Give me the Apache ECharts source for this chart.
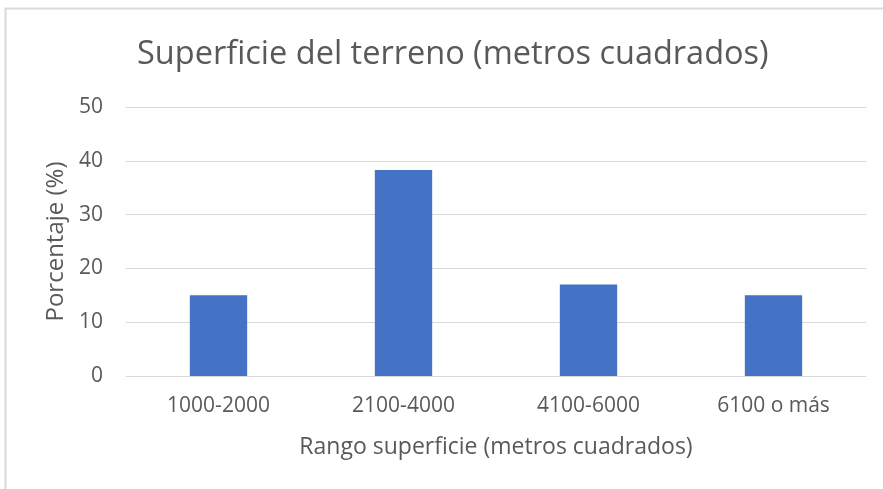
<!DOCTYPE html>
<html>
<head>
<meta charset="utf-8">
<script src="https://cdn.jsdelivr.net/npm/echarts@6/dist/echarts.min.js"></script>
<style>
html,body{margin:0;padding:0;background:#fff;}
#c{width:883px;height:489px;}
</style>
</head>
<body>
<div id="c"></div>
<script>
var titleText = 'Superficie del terreno (metros cuadrados)';
var categories = ['1000-2000', '2100-4000', '4100-6000', '6100 o más'];
var values = [15, 38.3, 17, 15];
var yTicks = {min: 0, max: 50, interval: 10};
var xName = 'Rango superficie (metros cuadrados)';
var yName = 'Porcentaje (%)';

var chart = echarts.init(document.getElementById('c'), null, {renderer: 'canvas'});
var font = '"Open Sans", "Noto Sans", sans-serif';
chart.setOption({
  animation: false,
  backgroundColor: '#ffffff',
  textStyle: {fontFamily: font},
  graphic: [{
    type: 'rect',
    shape: {x: 5.5, y: 8.5, width: 900, height: 600},
    style: {fill: 'none', stroke: '#D9D9D9', lineWidth: 2},
    silent: true
  }],
  title: {
    text: titleText,
    left: 132,
    top: 33,
    textStyle: {fontFamily: font, fontSize: 32.5, fontWeight: 'normal', color: '#595959'}
  },
  grid: {left: 126, right: 17, top: 107, bottom: 113, containLabel: false},
  xAxis: {
    type: 'category',
    data: categories,
    name: xName,
    nameLocation: 'middle',
    nameGap: 60,
    nameTextStyle: {fontFamily: font, fontSize: 23, color: '#595959'},
    axisLine: {lineStyle: {color: '#D9D9D9', width: 1}},
    axisTick: {show: false},
    axisLabel: {fontFamily: font, fontSize: 21, color: '#595959', margin: 20}
  },
  yAxis: {
    type: 'value',
    min: yTicks.min,
    max: yTicks.max,
    interval: yTicks.interval,
    name: yName,
    nameLocation: 'middle',
    nameGap: 55,
    nameTextStyle: {fontFamily: font, fontSize: 24, color: '#595959'},
    axisLine: {show: false},
    axisTick: {show: false},
    axisLabel: {fontFamily: font, fontSize: 21, color: '#595959', margin: 23},
    splitLine: {lineStyle: {color: '#D9D9D9', width: 1}}
  },
  series: [{
    type: 'bar',
    data: values,
    barWidth: '31%',
    itemStyle: {color: '#4472C4'}
  }]
});
</script>
</body>
</html>
